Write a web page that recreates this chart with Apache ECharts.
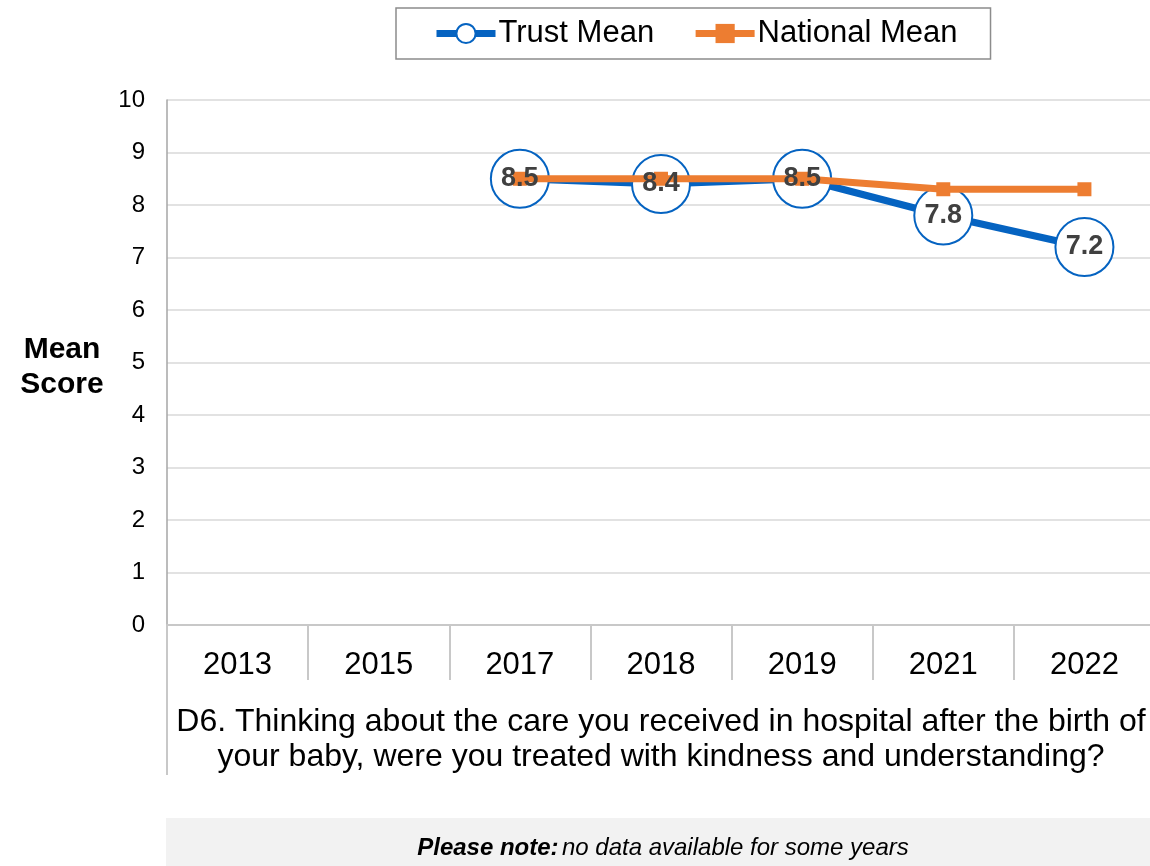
<!DOCTYPE html>
<html>
<head>
<meta charset="utf-8">
<style>
  html, body { margin: 0; padding: 0; background: #fff; overflow: hidden; }
  #chart { width: 1155px; height: 866px; }
</style>
<script src="https://cdn.jsdelivr.net/npm/echarts@6/dist/echarts.min.js"></script>
</head>
<body>
<div id="chart"></div>
<script>
// Survey years on the category axis
const years = ['2013', '2015', '2017', '2018', '2019', '2021', '2022'];
// Mean scores per year (null = no data for that year)
const trustMean = [null, null, 8.5, 8.4, 8.5, 7.8, 7.2];
const nationalMean = [null, null, 8.5, 8.5, 8.5, 8.3, 8.3];
// Value-axis range and step
const yMin = 0;
const yMax = 10;
const yStep = 1;

const questionText = 'D6. Thinking about the care you received in hospital after the birth of\nyour baby, were you treated with kindness and understanding?';

const FONT = '"Liberation Sans", Arial, sans-serif';
const BLUE = '#0563C1';
const ORANGE = '#ED7D31';

const chart = echarts.init(document.getElementById('chart'), null, { renderer: 'canvas' });

chart.setOption({
  animation: false,
  textStyle: { fontFamily: FONT },
  legend: {
    data: ['Trust Mean', 'National Mean'],
    left: 396,
    top: 8,
    padding: [10, 33, 10, 37],
    itemGap: 38,
    itemWidth: 59,
    itemHeight: 24,
    borderColor: '#8c8c8c',
    borderWidth: 1.5,
    lineStyle: { width: 7 },
    textStyle: { fontSize: 31, color: '#000', fontFamily: FONT, padding: [0, 0, 0, -2] }
  },
  grid: {
    left: 167,
    right: 0,
    top: 100,
    bottom: 241,
    containLabel: false
  },
  xAxis: {
    type: 'category',
    data: years,
    boundaryGap: true,
    axisLine: { show: true, lineStyle: { color: '#c8c8c8', width: 2 } },
    axisTick: { show: true, interval: 0, length: 55, lineStyle: { color: '#c8c8c8', width: 2 } },
    axisLabel: { interval: 0, margin: 25, fontSize: 31, color: '#000', fontFamily: FONT },
    splitLine: { show: false },
    name: questionText,
    nameLocation: 'middle',
    nameGap: 80,
    nameTextStyle: {
      fontSize: 32,
      color: '#000',
      lineHeight: 35,
      verticalAlign: 'top',
      align: 'center',
      fontFamily: FONT
    }
  },
  yAxis: {
    type: 'value',
    min: yMin,
    max: yMax,
    interval: yStep,
    axisLine: { show: true, lineStyle: { color: '#a6a6a6', width: 1.5 } },
    axisTick: { show: false },
    axisLabel: { fontSize: 24, color: '#000', margin: 22, fontFamily: FONT },
    splitLine: { show: true, lineStyle: { color: '#d9d9d9', width: 1.5 } }
  },
  series: [
    {
      name: 'Trust Mean',
      type: 'line',
      data: trustMean,
      z: 2,
      connectNulls: false,
      symbol: 'circle',
      symbolSize: 58,
      showAllSymbol: true,
      lineStyle: { color: BLUE, width: 7 },
      itemStyle: { color: '#fff', borderColor: BLUE, borderWidth: 2 },
      label: { show: false }
    },
    {
      name: 'National Mean',
      type: 'line',
      data: nationalMean,
      z: 3,
      connectNulls: false,
      symbol: 'rect',
      symbolSize: 14,
      lineStyle: { color: ORANGE, width: 7 },
      itemStyle: { color: ORANGE },
      label: { show: false }
    },
    {
      // value labels for the trust series, kept above both lines
      name: 'Trust Mean labels',
      type: 'scatter',
      data: trustMean,
      z: 5,
      silent: true,
      symbol: 'circle',
      symbolSize: 58,
      itemStyle: { color: 'rgba(0,0,0,0)', opacity: 1 },
      label: {
        show: true,
        position: 'inside',
        fontSize: 27,
        fontWeight: 'bold',
        color: '#404040',
        fontFamily: FONT,
        formatter: p => p.value == null ? '' : Number(p.value).toFixed(1)
      }
    }
  ],
  graphic: [
    {
      // value-axis title
      type: 'text',
      style: {
        x: 62,
        y: 367,
        text: 'Mean\nScore',
        align: 'center',
        verticalAlign: 'middle',
        lineHeight: 35,
        fontSize: 30,
        fontWeight: 'bold',
        fill: '#000',
        fontFamily: FONT
      },
      silent: true
    },
    {
      type: 'line',
      shape: { x1: 167, y1: 625, x2: 167, y2: 775 },
      style: { stroke: '#c8c8c8', lineWidth: 2 },
      silent: true
    },
    {
      type: 'rect',
      shape: { x: 166, y: 818, width: 990, height: 48 },
      style: { fill: '#f2f2f2' },
      silent: true
    },
    {
      type: 'text',
      style: {
        x: 663,
        y: 848,
        text: '{b|Please note:} {i|no data available for some years}',
        align: 'center',
        verticalAlign: 'middle',
        rich: {
          b: { fontSize: 24, fontWeight: 'bold', fontStyle: 'italic', fill: '#000', fontFamily: FONT },
          i: { fontSize: 24, fontStyle: 'italic', fill: '#000', fontFamily: FONT }
        }
      },
      silent: true
    }
  ]
});
</script>
</body>
</html>
